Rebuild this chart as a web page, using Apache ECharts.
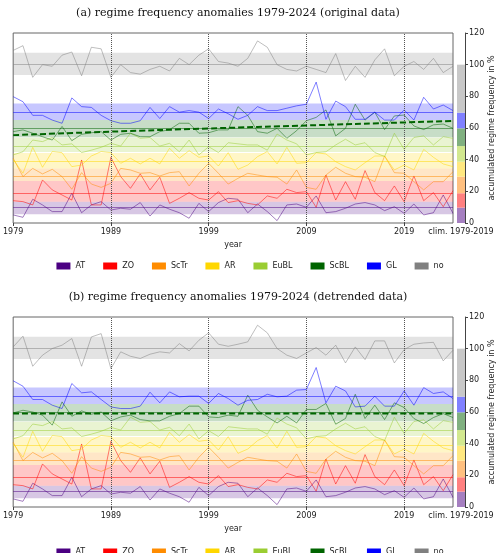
<!DOCTYPE html>
<html><head><meta charset="utf-8">
<script src="https://cdn.jsdelivr.net/npm/echarts@6/dist/echarts.min.js"></script>
<style>html,body{margin:0;padding:0;background:#fff}#c{width:500px;height:553px}</style>
</head><body><div id="c"></div>
<script>
const years = []; for (let y = 1979; y <= 2024; y++) years.push(y);
const regimes = ['AT','ZO','ScTr','AR','EuBL','ScBL','GL','no'];
const colors = ['#4b0082','#ff0000','#ff8c00','#ffd700','#9acd32','#006400','#0000ff','#808080'];
const cbColors = ['#a57fc0','#ff8080','#ffc080','#ffe880','#d2e88f','#80b080','#8080ff','#c8c8c8'];
// climatological accumulated means (%) and band limits
const climMean = [9.7,18.8,29.3,38.7,48.6,59.8,69.7,100.2];
const bandLo = [5.5,13.5,26.5,34.5,44.8,54.2,65,93.5];
const bandHi = [13.5,26.5,34.5,44.2,53.8,65,75.5,107.5];
const climSeg = [9.7,9.1,10.5,9.4,9.9,11.2,9.9,30.3];
const xTicks = [1979,1989,1999,2009,2019];
const gridYears = [1989,1999,2009,2019];

// (a) original data, accumulated frequencies
const AT_a = [5.1,3.6,15,11.4,7.2,7.2,18.8,6.5,11.4,13.5,8.2,9.3,8.7,12.9,4.4,11.4,8.7,6.5,3,12.4,7.2,12.9,15.6,15,6.5,12,7.2,1.5,11.4,12,9.9,17.1,6.5,7.2,9.3,12,12.9,11.4,7.8,10.3,6.1,12,5.1,6.5,17.7,6.1];
const ZO_a = [14.1,13.5,11.4,27.2,20.9,17.7,14.5,39.8,11.4,11.4,41.5,29.3,21.9,31,20.9,28.9,12.4,15.6,19.2,15.6,14.5,19.8,12.9,14.1,12.4,11.4,17.1,15.6,21.3,19.2,19.8,9.9,30.3,14.5,26.1,15,33.1,19.2,14.1,23.4,13.5,29.7,14.1,19.2,10.3,20.4];
const ScTr_a = [40.9,29.3,34.5,31,33.9,29.3,21.3,31.8,24.6,22.5,25.1,34.5,33.5,31.4,31.8,29.7,31.8,32.4,23.4,31.4,37.7,31.4,24.6,28.2,31.4,30.3,29.3,28.9,24.6,33.5,22.5,21.3,30.3,35.2,31.4,29.3,28.9,26.1,42.3,31.8,31.4,26.1,20.9,26.1,26.1,32.4];
const AR_a = [40.2,31.4,47.8,35.2,45.1,44.4,35.6,36.6,42.3,45.1,44.4,37.7,40.9,37.3,40.9,37.3,47.2,40.9,45.7,41.5,42.3,36,44.4,33.9,36.6,41.9,45.1,37.3,47.8,37.7,38.1,44.4,43.6,38.7,35.6,33.5,38.1,42.3,42.3,33.5,36.6,33.5,46.5,41.5,37.3,35.6];
const EuBL_a = [43,45,52.4,51.4,54,49.3,50,44.5,46,47.8,50.3,48.6,56.7,53.5,54,48.6,50.3,45,52.4,43,48.2,44.5,50.7,50,49.3,49.3,46,56.2,52.4,50,43,44.5,45,49.3,52.9,49.3,50.7,44.5,42,56.7,46.5,54,55,49.3,54.5,53.5];
const ScBL_a = [57.7,58.8,56.7,54.5,52.4,61,52,56,57,57.7,52.4,56,56.7,54.5,54.5,57.7,59,63,63,56.7,57,58.8,58.8,73.5,68,57.7,56.7,59.8,53.5,58.3,64.6,66.7,71.4,55,59.8,75,65,70,59,67.6,68.2,61.3,59,62,62.5,59.8];
const GL_a = [79.8,76.6,68,68,65,63,79,73.5,73,68,64.6,63,63,64.6,73,66,73.5,70,71,70,66,72,69,65.5,68,73.5,71,71,72.5,74,75,89,65.5,77,73.5,65.5,65.5,70,65,65,71.4,65,79.4,72,74.5,71];
const no_a = [109,112,92,100,99,106,108,93,111,110,92,100,95,94,97,99,96,104,100,106,110,102,101,99,104,115,111,100,97,96,99,97,95,107,90,99,92,103,110,93,99,102,97,104,95,99];
const trendYears_a = [1979,1989,1999,2009,2019,2024];
const trend_a = [55.5,57.7,59.7,61.6,63.5,64.5];

// (b) detrended data, accumulated frequencies
const AT_b = AT_a, ZO_b = ZO_a, ScTr_b = ScTr_a, AR_b = AR_a, EuBL_b = EuBL_a;
const ScBL_b = [59.4,61.1,60,58,51.7,66.4,57.3,60.7,58.6,60,54.4,56.9,58,55.2,54.4,54.4,57.3,59,63.7,63.7,56.9,56.5,58,57.3,70.6,61.1,56.9,53.1,57.3,53.1,61.6,61.6,65.4,52.3,55.9,71.2,55.9,64.3,55.2,65.8,62.8,55.9,52.7,56.5,59,56.5];
const GL_b = [79.7,76.3,67.9,67.9,64.3,62.2,78,72.1,72.7,67.9,63.2,62.2,62.2,63.7,72.5,65.8,72.7,69.6,70,70,65.4,71.7,68.5,64.3,67.4,67.9,71.2,69.6,70,73.8,74.2,88.1,65.8,76.3,73.3,63.2,63.7,70,63.7,63.7,73.3,64.3,75.4,71.7,72.7,68.5];
const no_b = [101.1,107.9,88.9,95.9,100.1,102.2,106.4,88.9,107.4,109.5,87.4,98,95.2,93.8,96.5,98,97.3,103.2,98.6,105.3,110,102.8,101.5,102.8,104.3,114.8,110,100.1,95.9,93.8,97.3,100.7,95.9,102.2,91,101.1,93.1,104.9,104.9,91,99.4,102.8,103.6,104,92.3,99];
const trendYears_b = [1979,2024];
const trend_b = [59,59];

function rgba(hex,a){const n=parseInt(hex.slice(1),16);return `rgba(${n>>16},${(n>>8)&255},${n&255},${a})`;}

const panels = [
  {top:33, title:'(a) regime frequency anomalies 1979-2024 (original data)', titleTop:3, legendTop:257,
   data:[AT_a,ZO_a,ScTr_a,AR_a,EuBL_a,ScBL_a,GL_a,no_a], tx:trendYears_a, ty:trend_a},
  {top:317, title:'(b) regime frequency anomalies 1979-2024 (detrended data)', titleTop:287, legendTop:543,
   data:[AT_b,ZO_b,ScTr_b,AR_b,EuBL_b,ScBL_b,GL_b,no_b], tx:trendYears_b, ty:trend_b}
];
const H = 190;
const opt = {animation:false, title:[], grid:[], xAxis:[], yAxis:[], series:[], legend:[], textStyle:{fontFamily:'DejaVu Sans'}};
const lab = {fontSize:8, color:'#222', fontFamily:'DejaVu Sans'};
panels.forEach((p,pi)=>{
  opt.title.push({text:p.title, left:233, top:p.titleTop, textAlign:'center', textStyle:{fontFamily:'DejaVu Serif', fontSize:11, fontWeight:'normal', color:'#111'}});
  opt.grid.push({left:13, top:p.top, width:440, height:H, show:true, borderColor:'#666', borderWidth:1, backgroundColor:'transparent'});
  opt.grid.push({left:457, top:p.top, width:8, height:H});
  const gM = pi*2, gC = pi*2+1;
  opt.xAxis.push({type:'value', gridIndex:gM, min:1979, max:2024, name:'year', nameLocation:'middle', nameGap:18,
    nameTextStyle:{fontSize:8, color:'#222'},
    axisLine:{show:false}, splitLine:{show:false},
    axisTick:{show:true, customValues:xTicks, length:3, lineStyle:{color:'#444'}},
    axisLabel:Object.assign({customValues:xTicks, margin:5, formatter:v=>String(v)}, lab)});
  opt.xAxis.push({type:'category', gridIndex:gC, data:['clim. 1979-2019'], axisLine:{show:false}, axisTick:{show:false},
    axisLabel:Object.assign({margin:5}, lab)});
  opt.yAxis.push({type:'value', gridIndex:gM, min:0, max:120, show:false, splitLine:{show:false}});
  opt.yAxis.push({type:'value', gridIndex:gC, min:0, max:120, interval:20, position:'right',
    name:'accumulated regime frequency in %', nameLocation:'middle', nameGap:22, nameRotate:90,
    nameTextStyle:{fontSize:8, color:'#222'},
    axisLine:{show:true, lineStyle:{color:'#444'}}, axisTick:{show:true, length:3, lineStyle:{color:'#444'}},
    splitLine:{show:false}, axisLabel:Object.assign({margin:4}, lab)});
  regimes.forEach((r,i)=>{
    opt.series.push({name:r, type:'line', xAxisIndex:gM, yAxisIndex:gM, data:years.map((y,k)=>[y,p.data[i][k]]),
      symbol:'none', itemStyle:{color:colors[i]}, lineStyle:{color:rgba(colors[i],0.5), width:1}, z:3,
      markArea:{silent:true, itemStyle:{color:rgba(colors[i],0.22)}, data:[[{yAxis:bandLo[i]},{yAxis:bandHi[i]}]]},
      markLine:{silent:true, symbol:'none', label:{show:false}, lineStyle:{color:rgba(colors[i],0.5), type:'solid', width:1},
        data:[{yAxis:climMean[i]}]}});
    opt.series.push({name:r+'_cb', type:'bar', stack:'cb'+pi, xAxisIndex:gC, yAxisIndex:gC, data:[climSeg[i]],
      barWidth:'100%', itemStyle:{color:cbColors[i]}, silent:true});
  });
  opt.series.push({name:'trend', type:'line', xAxisIndex:gM, yAxisIndex:gM, data:p.tx.map((y,k)=>[y,p.ty[k]]),
    smooth:true, symbol:'none', lineStyle:{color:'#006400', width:2, type:[6,3]}, z:5,
    markLine:{silent:true, symbol:'none', label:{show:false}, lineStyle:{color:'#555', type:'dotted', width:1},
      data:gridYears.map(y=>({xAxis:y}))}});
  opt.legend.push({top:p.legendTop, left:'center', itemWidth:14, itemHeight:7, itemGap:18, icon:'rect',
    data:regimes, textStyle:{fontSize:8, color:'#222'}});
});
echarts.init(document.getElementById('c')).setOption(opt);
</script></body></html>
